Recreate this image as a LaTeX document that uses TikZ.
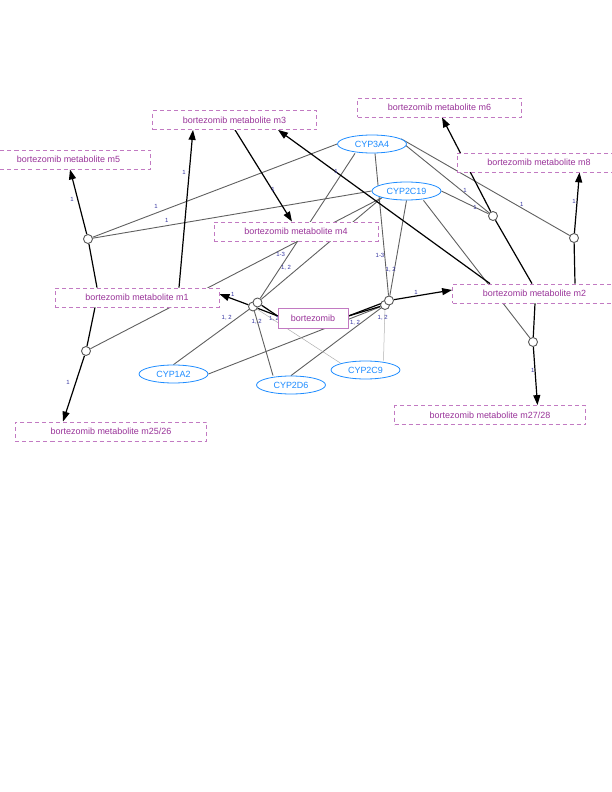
\documentclass[tikz,border=0pt]{standalone}
\usepackage{fontspec}
\setmainfont{Liberation Sans}
\usetikzlibrary{arrows.meta,shapes.geometric,backgrounds}
\definecolor{metabtext}{HTML}{993399}
\definecolor{metabline}{HTML}{C27AC2}
\definecolor{enzblue}{HTML}{1E8CFF}
\definecolor{lblblue}{HTML}{3535A0}
\definecolor{modgray}{HTML}{606060}
\definecolor{faintgray}{HTML}{AFAFAF}
\tikzset{
  metabox/.style={draw=metabline, dash pattern=on 4bp off 3bp, line width=0.8bp, fill=white,
    text=metabtext, minimum width=164bp, minimum height=19bp, inner sep=0pt,
    font=\fontsize{9}{10}\selectfont},
  widebox/.style={metabox, minimum width=191bp},
  drugbox/.style={metabox, solid, minimum width=70bp, minimum height=20bp},
  enzyme/.style={ellipse, draw=enzblue, line width=0.8bp, fill=white, text=enzblue,
    minimum width=69bp, minimum height=18bp, inner sep=0pt, font=\fontsize{9}{10}\selectfont},
  proc/.style={circle, draw=black!65, line width=0.9bp, fill=white, minimum size=9bp, inner sep=0pt},
  rxn/.style={line width=1.2bp, draw=black},
  rxnarr/.style={rxn, -{Triangle[length=10bp,width=7bp]}},
  modline/.style={line width=0.9bp, draw=modgray},
  faintline/.style={line width=0.5bp, draw=faintgray},
  lbl/.style={text=lblblue, inner sep=0pt, font=\fontsize{6}{7}\selectfont}
}
\begin{document}
\begin{tikzpicture}[x=1bp, y=-1bp]
  \useasboundingbox (0,0) rectangle (612,792);
  % metabolites
  \node[metabox] (m3) at (234.5,120) {bortezomib metabolite m3};
  \node[metabox] (m5) at (68.5,159.5) {bortezomib metabolite m5};
  \node[metabox] (m6) at (439.5,107.5) {bortezomib metabolite m6};
  \node[metabox] (m8) at (539,162.5) {bortezomib metabolite m8};
  \node[metabox] (m4) at (296,231.5) {bortezomib metabolite m4};
  \node[metabox] (m1) at (137,297.5) {bortezomib metabolite m1};
  \node[metabox] (m2) at (534.5,293.5) {bortezomib metabolite m2};
  \node[widebox] (m25) at (111,431.5) {bortezomib metabolite m25/26};
  \node[widebox] (m27) at (490,415) {bortezomib metabolite m27/28};
  \node[drugbox] (bort) at (313,318) {bortezomib};
  % enzymes
  \node[enzyme] (cyp3a4) at (372,144) {CYP3A4};
  \node[enzyme] (cyp2c19) at (406.5,191) {CYP2C19};
  \node[enzyme] (cyp1a2) at (173.5,374) {CYP1A2};
  \node[enzyme] (cyp2d6) at (291,385) {CYP2D6};
  \node[enzyme] (cyp2c9) at (365.5,370) {CYP2C9};
  % process nodes
  \node[proc] (p5) at (88,239) {};
  \node[proc] (p25) at (86,351) {};
  \node[proc] (p6) at (493,216) {};
  \node[proc] (p8) at (574,238) {};
  \node[proc] (p27) at (533,342) {};
  \node[proc] (pl1) at (253,306.5) {};
  \node[proc] (pl2) at (257.5,302.5) {};
  \node[proc] (pr1) at (385,305) {};
  \node[proc] (pr2) at (389,300.5) {};

  \begin{pgfonlayer}{background}
    % modifiers
    \draw[modline] (cyp3a4.west) -- (p5);
    \draw[modline] (cyp2c19.west) -- (p5);
    \draw[modline] (cyp2c19.south west) -- (p25);
    \draw[modline] ([xshift=-17bp]cyp3a4.south) -- (pl2);
    \draw[modline] (cyp2c19.south west) -- (pl2);
    \draw[modline] ([xshift=3bp]cyp3a4.south) -- (pr2);
    \draw[modline] (cyp2c19.south) -- (pr2);
    \draw[modline] ([xshift=32bp]cyp3a4.center) -- (p6);
    \draw[modline] (cyp2c19.east) -- (p6);
    \draw[modline] (cyp3a4.10) -- (p8);
    \draw[modline] ([xshift=17bp]cyp2c19.south) -- (p27);
    \draw[modline] (cyp1a2.north) -- (pl1);
    \draw[modline] (cyp1a2.east) -- (pr1);
    \draw[modline] ([xshift=-18bp]cyp2d6.north) -- (pl1);
    \draw[modline] (cyp2d6.north) -- (pr1);
    \draw[faintline] (cyp2c9.north west) -- (pl1);
    \draw[faintline] ([xshift=18bp]cyp2c9.north) -- (pr1);
    % reactions
    \draw[rxn] ([xshift=-40bp]m1.north) -- (p5);
    \draw[rxnarr] (p5) -- ([xshift=1.5bp]m5.south);
    \draw[rxn] ([xshift=-42bp]m1.south) -- (p25);
    \draw[rxnarr] (p25) -- ([xshift=-48bp]m25.north);
    \draw[rxnarr] ([xshift=42bp]m1.north) -- ([xshift=-41.5bp]m3.south);
    \draw[rxnarr] ([xshift=0.5bp]m3.south) -- ([xshift=-4bp]m4.north);
    \draw[rxnarr] ([xshift=-44.5bp]m2.north) -- ([xshift=43.5bp]m3.south);
    \draw[rxn] ([xshift=-2.5bp]m2.north) -- (p6);
    \draw[rxnarr] (p6) -- ([xshift=2.5bp]m6.south);
    \draw[rxn] ([xshift=40.5bp]m2.north) -- (p8);
    \draw[rxnarr] (p8) -- ([xshift=40.5bp]m8.south);
    \draw[rxn] ([xshift=0.5bp]m2.south) -- (p27);
    \draw[rxnarr] (p27) -- ([xshift=47.5bp]m27.north);
    \draw[rxn] ([yshift=2bp]bort.west) -- (pl1);
    \draw[rxn] ([yshift=2bp]bort.west) -- (pl2);
    \draw[rxnarr] (pl1) -- ([yshift=3.5bp]m1.east);
    \draw[rxn] ([yshift=2bp]bort.east) -- (pr1);
    \draw[rxn] ([yshift=2bp]bort.east) -- (pr2);
    \draw[rxnarr] (pr2) -- ([yshift=3.5bp]m2.west);
    % stoichiometry labels
    \node[lbl] (la) at (72,199) {1};
    \node[lbl] (lb) at (156,206) {1};
    \node[lbl] (lc) at (166.7,220.7) {1};
    \node[lbl] (ld) at (184,172.7) {1};
    \node[lbl] (le) at (273,189) {1};
    \node[lbl] (lf) at (336,171) {1};
    \node[lbl] (lg) at (465,190.7) {1};
    \node[lbl] (lh) at (475,207) {1};
    \node[lbl] (li) at (521.7,204) {1};
    \node[lbl] (lj) at (574,201) {1};
    \node[lbl] (lk) at (68,382.7) {1};
    \node[lbl] (ll) at (532.7,370) {1};
    \node[lbl] (lm) at (232.7,294) {1};
    \node[lbl] (ln) at (416,292.7) {1};
    \node[lbl] (lo) at (280.7,254) {1-3};
    \node[lbl] (lp) at (286,267.3) {1, 2};
    \node[lbl] (lq) at (226.7,317.7) {1, 2};
    \node[lbl] (lr) at (256.7,321.7) {1, 2};
    \node[lbl] (ls) at (274,318.3) {1, 2};
    \node[lbl] (lt) at (380,255) {1-3};
    \node[lbl] (lu) at (390.7,270) {1, 2};
    \node[lbl] (lv) at (382.7,317.3) {1, 2};
    \node[lbl] (lw) at (355,322.7) {1, 2};
  \end{pgfonlayer}
\end{tikzpicture}
\end{document}
